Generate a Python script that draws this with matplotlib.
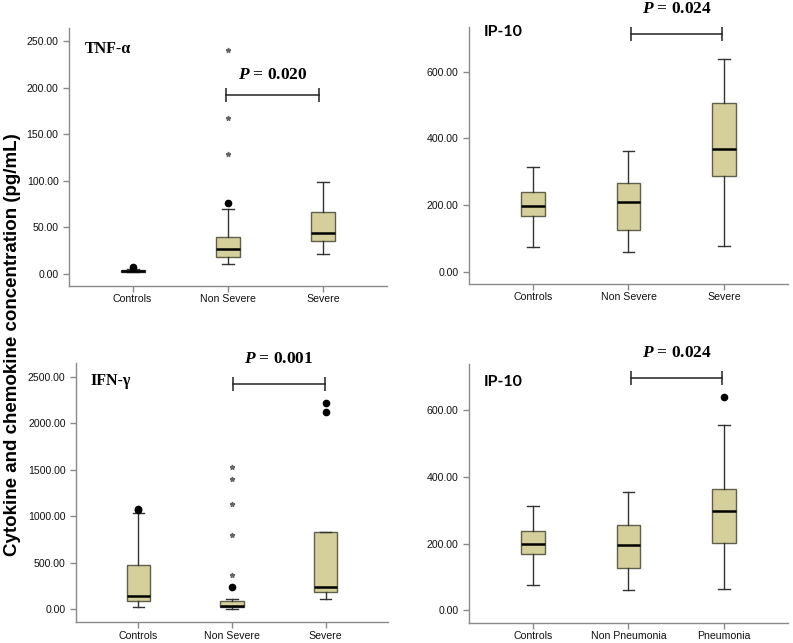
import numpy as np
import matplotlib
matplotlib.use('Agg')
import matplotlib.pyplot as plt
from matplotlib.ticker import FormatStrFormatter

plt.rcParams['font.family'] = ['Liberation Sans', 'DejaVu Sans']
plt.rcParams['mathtext.fontset'] = 'custom'
plt.rcParams['mathtext.rm'] = 'Liberation Serif:bold'
plt.rcParams['mathtext.it'] = 'Liberation Serif:bold:italic'
plt.rcParams['mathtext.bf'] = 'Liberation Serif:bold'

# ---- data ----
groups_sev = ['Controls', 'Non Severe', 'Severe']
groups_pne = ['Controls', 'Non Pneumonia', 'Pneumonia']

# TNF-alpha
tnf_lo = [2.0, 10.4, 21.5]
tnf_q1 = [2.5, 18.6, 35.4]
tnf_med = [3.2, 27.0, 43.7]
tnf_q3 = [4.2, 39.3, 66.5]
tnf_hi = [5.0, 69.7, 98.4]
tnf_dots = [[7.8], [76.5], []]
tnf_stars = [[], [128.4, 167.7, 240.0], []]

# IP-10 (severity)
ip_lo = [75, 60, 78]
ip_q1 = [168, 126, 287]
ip_med = [198, 209, 369]
ip_q3 = [238, 265, 507]
ip_hi = [313, 361, 639]
ip_dots = [[], [], []]
ip_stars = [[], [], []]

# IFN-gamma
ifn_lo = [25, 6, 111]
ifn_q1 = [86, 25, 189]
ifn_med = [140, 39, 240]
ifn_q3 = [473, 89, 827]
ifn_hi = [1038, 114, 827]
ifn_dots = [[1062, 1082], [236], [2120, 2220]]
ifn_stars = [[], [365, 798, 1131, 1403, 1532], []]

# IP-10 (pneumonia)
ipp_lo = [76, 61, 65]
ipp_q1 = [169, 126, 201]
ipp_med = [199, 197, 298]
ipp_q3 = [239, 255, 365]
ipp_hi = [314, 356, 557]
ipp_dots = [[], [], [640]]
ipp_stars = [[], [], []]

box_color = '#d4cf9b'
edge_color = '#5f5f4a'
spine_color = '#8a8a8a'

fig = plt.figure(figsize=(7.93, 6.43), dpi=100)


def panel(rect, cats, lo, q1, med, q3, hi, dots, stars, ylim, yticks,
          label, label_font, label_pos, ptext, bracket_x, bracket_y, ptext_y):
    ax = fig.add_axes(rect)
    stats = []
    for i in range(len(cats)):
        stats.append(dict(whislo=lo[i], q1=q1[i], med=med[i], q3=q3[i],
                          whishi=hi[i], fliers=[]))
    pos = np.arange(1, len(cats) + 1)
    ax.bxp(stats, positions=pos, widths=0.25, showfliers=False,
           patch_artist=True,
           boxprops=dict(facecolor=box_color, edgecolor=edge_color, linewidth=1.0),
           medianprops=dict(color='black', linewidth=1.8),
           whiskerprops=dict(color='#333333', linewidth=1.0),
           capprops=dict(color='#333333', linewidth=1.0),
           capwidths=0.125)
    for p, d in zip(pos, dots):
        if d:
            ax.plot([p] * len(d), d, 'o', color='black', ms=4.5, zorder=4)
    for p, s in zip(pos, stars):
        if s:
            ax.plot([p] * len(s), s, '*', color='#666666', ms=3.5, zorder=4)

    ax.set_xlim(1 / 3, 3 + 2 / 3)
    ax.set_ylim(*ylim)
    ax.set_yticks(yticks)
    ax.yaxis.set_major_formatter(FormatStrFormatter('%.2f'))
    ax.set_xticks(pos)
    ax.set_xticklabels(cats)
    for s in ['top', 'right']:
        ax.spines[s].set_visible(False)
    for s in ['left', 'bottom']:
        ax.spines[s].set_color(spine_color)
        ax.spines[s].set_linewidth(1.0)
    ax.tick_params(axis='both', colors=spine_color, labelcolor='#111111',
                   labelsize=7.6, length=4, width=1)
    ax.tick_params(axis='x', pad=2)

    ax.text(label_pos[0], label_pos[1], label, transform=ax.transAxes,
            fontsize=11.5, fontweight='bold', family=label_font,
            ha='left', va='center')

    ax.plot(bracket_x, [bracket_y, bracket_y], color='#222222', lw=1.1,
            marker='|', ms=10, mew=1.1, clip_on=False)
    ax.text(np.mean(bracket_x), ptext_y, r'$P$' + ' = ' + ptext,
            family='Liberation Serif', fontweight='bold', fontsize=12.5,
            ha='center', va='center', clip_on=False)
    return ax


panel([0.087, 0.5552, 0.401, 0.4013], groups_sev,
      tnf_lo, tnf_q1, tnf_med, tnf_q3, tnf_hi, tnf_dots, tnf_stars,
      (-12.9, 264), [0, 50, 100, 150, 200, 250],
      'TNF-α', 'Liberation Serif', (0.05, 0.92),
      '0.020', [1.98, 2.95], 192, 213)

panel([0.5914, 0.5583, 0.4023, 0.3997], groups_sev,
      ip_lo, ip_q1, ip_med, ip_q3, ip_hi, ip_dots, ip_stars,
      (-37, 734), [0, 200, 400, 600],
      'IP-10', 'Lato', (0.045, 0.98),
      '0.024', [2.03, 2.98], 713, 787)

panel([0.0958, 0.0322, 0.3935, 0.4028], groups_sev,
      ifn_lo, ifn_q1, ifn_med, ifn_q3, ifn_hi, ifn_dots, ifn_stars,
      (-140, 2643), [0, 500, 1000, 1500, 2000, 2500],
      'IFN-γ', 'Liberation Serif', (0.045, 0.93),
      '0.001', [2.01, 2.99], 2421, 2690)

panel([0.5914, 0.0311, 0.4023, 0.4023], groups_pne,
      ipp_lo, ipp_q1, ipp_med, ipp_q3, ipp_hi, ipp_dots, ipp_stars,
      (-38, 738), [0, 200, 400, 600],
      'IP-10', 'Lato', (0.045, 0.93),
      '0.024', [2.03, 2.98], 698, 773)

fig.text(0.016, 0.4635, 'Cytokine and chemokine concentration (pg/mL)',
         rotation=90, ha='center', va='center', fontsize=13.5,
         fontweight='bold', family='Liberation Sans')

fig.savefig('out.png', dpi=100)
